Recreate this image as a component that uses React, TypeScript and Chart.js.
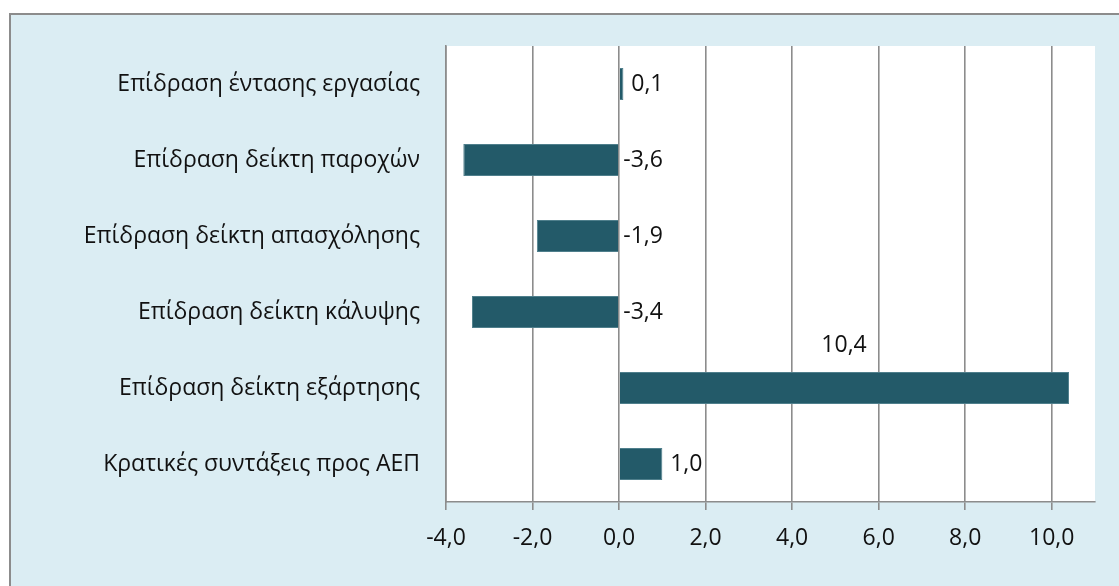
import React, { useEffect, useRef } from "react";
import { Chart, registerables } from "chart.js";

Chart.register(...registerables);

const categories: string[] = [
  "Επίδραση έντασης εργασίας",
  "Επίδραση δείκτη παροχών",
  "Επίδραση δείκτη απασχόλησης",
  "Επίδραση δείκτη κάλυψης",
  "Επίδραση δείκτη εξάρτησης",
  "Κρατικές συντάξεις προς ΑΕΠ",
];
const values: number[] = [0.1, -3.6, -1.9, -3.4, 10.4, 1.0];
const xMin = -4;
const xMax = 11;
const xStep = 2;
const xLastTick = 10;

const FONT = "'Open Sans', sans-serif";
const fmt = (v: number) => v.toFixed(1).replace(".", ",");

const plotBg = {
  id: "plotBg",
  beforeDraw(chart: any) {
    const { ctx, chartArea } = chart;
    ctx.save();
    ctx.fillStyle = "#ffffff";
    ctx.fillRect(chartArea.left, chartArea.top, chartArea.right - chartArea.left, chartArea.bottom - chartArea.top);
    ctx.restore();
  },
};

const valueLabels = {
  id: "valueLabels",
  afterDatasetsDraw(chart: any) {
    const { ctx, chartArea } = chart;
    const meta = chart.getDatasetMeta(0);
    const xs = chart.scales.x;
    const zero = xs.getPixelForValue(0);
    ctx.save();
    ctx.font = `23px ${FONT}`;
    ctx.fillStyle = "#111111";
    ctx.textBaseline = "middle";
    ctx.textAlign = "center";
    meta.data.forEach((bar: any, i: number) => {
      const v = values[i];
      const text = fmt(v);
      const w = ctx.measureText(text).width;
      const end = Math.max(bar.x, zero);
      let cx = end + 24;
      let cy = bar.y;
      if (cx + w / 2 > chartArea.right) {
        cx = (bar.x + zero) / 2;
        cy = bar.y - bar.height / 2 - 27;
      }
      ctx.fillText(text, cx, cy);
    });
    ctx.restore();
  },
};

export default function App() {
  const ref = useRef<HTMLCanvasElement | null>(null);
  useEffect(() => {
    if (!ref.current) return;
    const chart = new Chart(ref.current, {
      type: "bar",
      data: {
        labels: categories,
        datasets: [
          {
            data: values,
            backgroundColor: "#235a69",
            borderColor: "#4f7f8c",
            borderWidth: 1,
            barPercentage: 0.42,
            categoryPercentage: 1,
          },
        ],
      },
      options: {
        indexAxis: "y",
        animation: false,
        responsive: false,
        layout: { padding: { top: 46, right: 24, bottom: 0, left: 0 } },
        plugins: { legend: { display: false }, tooltip: { enabled: false } },
        scales: {
          x: {
            min: xMin,
            max: xMax,
            afterBuildTicks: (axis: any) => {
              axis.ticks = axis.ticks.filter((t: any) => t.value <= xLastTick);
            },
            afterFit: (scale: any) => {
              scale.height = 84;
            },
            ticks: {
              stepSize: xStep,
              color: "#111111",
              font: { family: FONT, size: 23 },
              padding: 15,
              callback: (v: any) => fmt(Number(v)),
            },
            grid: { color: "#8c8c8c", lineWidth: 1.6, tickLength: 8, drawTicks: true },
            border: { display: true, color: "#8c8c8c", width: 1.6 },
          },
          y: {
            afterFit: (scale: any) => {
              scale.width = 446;
            },
            ticks: {
              color: "#111111",
              font: { family: FONT, size: 23 },
              padding: 26,
            },
            grid: { display: false, drawTicks: false },
            border: { display: true, color: "#8c8c8c", width: 1.6 },
          },
        },
      },
      plugins: [plotBg, valueLabels],
    } as any);
    return () => chart.destroy();
  }, []);

  return (
    <div style={{ position: "fixed", left: 0, top: 0, width: 1119, height: 586, overflow: "hidden", background: "#ffffff" }}>
      <div
        style={{
          position: "absolute",
          left: 9,
          top: 13,
          width: 1130,
          height: 600,
          border: "2px solid #8c8c8c",
          background: "#dbedf3",
        }}
      />
      <canvas ref={ref} width={1119} height={586} style={{ position: "absolute", left: 0, top: 0, width: 1119, height: 586 }} />
    </div>
  );
}
